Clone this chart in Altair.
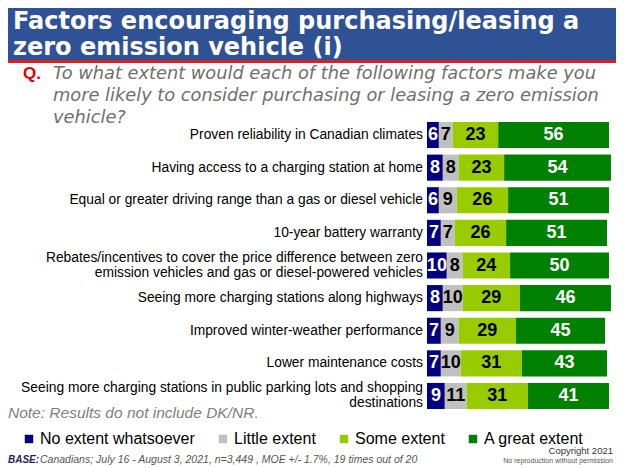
import altair as alt
import pandas as pd

# ---------------- data ----------------
categories = [
    "Proven reliability in Canadian climates",
    "Having access to a charging station at home",
    "Equal or greater driving range than a gas or diesel vehicle",
    "10-year battery warranty",
    "Rebates/incentives to cover the price difference between zero\nemission vehicles and gas or diesel-powered vehicles",
    "Seeing more charging stations along highways",
    "Improved winter-weather performance",
    "Lower maintenance costs",
    "Seeing more charging stations in public parking lots and shopping\ndestinations",
]
no_extent = [6, 8, 6, 7, 10, 8, 7, 7, 9]
little_extent = [7, 8, 9, 7, 8, 10, 9, 10, 11]
some_extent = [23, 23, 26, 26, 24, 29, 29, 31, 31]
great_extent = [56, 54, 51, 51, 50, 46, 45, 43, 41]

levels = ["No extent whatsoever", "Little extent", "Some extent", "A great extent"]
level_colors = ["#000080", "#C0C0C0", "#99CC00", "#008000"]

title_lines = ["Factors encouraging purchasing/leasing a", "zero emission vehicle (i)"]
question_lines = [
    "To what extent would each of the following factors make you",
    "more likely to consider purchasing or leasing a zero emission",
    "vehicle?",
]
note_text = "Note: Results do not include DK/NR."
base_label = "BASE:"
base_text = "Canadians; July 16 - August 3, 2021, n=3,449 , MOE +/- 1.7%, 19 times out of 20"
copyright_text = "Copyright 2021"
reproduction_text = "No reproduction without permission"

rows = []
for series, lvl in zip([no_extent, little_extent, some_extent, great_extent], levels):
    for cat, v in zip(categories, series):
        rows.append({"category": cat, "level": lvl, "value": v, "order": levels.index(lvl)})
df = pd.DataFrame(rows)
cat_df = pd.DataFrame({"category": categories})
one = pd.DataFrame({"k": [0]})

W, H = 608, 458
FONT = "Liberation Sans"
NARROW = "Liberation Sans Narrow, Liberation Sans"

yscale = alt.Scale(domain=categories, range=[110.7, 404.3], paddingInner=0.2, paddingOuter=0.1)
xscale = alt.Scale(domain=[0, 100], range=[419, 616.8], nice=False, zero=True)

base = alt.Chart(df).transform_stack(
    stack="value", groupby=["category"], as_=["x0", "x1"],
    sort=[alt.SortField("order", "ascending")]
).transform_calculate(mid="(datum.x0 + datum.x1) / 2")

bars = base.mark_bar().encode(
    y=alt.Y("category:N", scale=yscale, axis=None),
    x=alt.X("x0:Q", scale=xscale, axis=None),
    x2="x1:Q",
    color=alt.Color(
        "level:N",
        scale=alt.Scale(domain=levels, range=level_colors),
        legend=alt.Legend(
            orient="none", legendX=13, legendY=423, direction="horizontal",
            title=None, symbolType="square", symbolSize=72, symbolStrokeWidth=0,
            labelFont=FONT, labelFontSize=16, labelColor="black",
            labelOffset=3, columnPadding=20, labelLimit=300,
        ),
    ),
)

seg_labels = base.mark_text(font=FONT, fontSize=18, fontWeight="bold", baseline="middle", align="center").encode(
    y=alt.Y("category:N", scale=yscale, axis=None),
    x=alt.X("mid:Q", scale=xscale, axis=None),
    text="value:Q",
    color=alt.condition(
        "datum.level == 'No extent whatsoever' || datum.level == 'A great extent'",
        alt.value("white"), alt.value("black"),
    ),
)

cat_single = alt.Chart(cat_df).transform_filter("indexof(datum.category, '\\n') < 0").mark_text(
    font=FONT, fontSize=13.8, align="right", baseline="middle", color="black"
).encode(
    y=alt.Y("category:N", scale=yscale, axis=None),
    x=alt.value(415),
    text="category:N",
)
cat_multi = alt.Chart(cat_df).transform_filter("indexof(datum.category, '\\n') >= 0").mark_text(
    font=FONT, fontSize=13.8, align="right", baseline="middle", lineBreak="\n", lineHeight=15,
    dy=-7.5, color="black"
).encode(
    y=alt.Y("category:N", scale=yscale, axis=None),
    x=alt.value(415),
    text="category:N",
)

band = alt.Chart(one).mark_rect(color="#2F5296").encode(
    x=alt.value(0), x2=alt.value(W), y=alt.value(0), y2=alt.value(52)
)
redline = alt.Chart(one).mark_rect(color="#D91F1F").encode(
    x=alt.value(0), x2=alt.value(W), y=alt.value(52), y2=alt.value(55)
)
title = alt.Chart(one).mark_text(
    font="DejaVu Sans", fontSize=24, fontWeight="bold", color="white", align="left",
    baseline="alphabetic", lineHeight=26
).encode(x=alt.value(5), y=alt.value(21), text=alt.value(title_lines))

q_mark = alt.Chart(one).mark_text(
    font=FONT, fontSize=17, fontWeight="bold", color="#E00000", align="left", baseline="alphabetic"
).encode(x=alt.value(15), y=alt.value(71), text=alt.value("Q."))

question = alt.Chart(one).mark_text(
    font="DejaVu Sans", fontSize=17.8, fontStyle="italic", color="#6E6E6E", align="left",
    baseline="alphabetic", lineHeight=22
).encode(x=alt.value(45), y=alt.value(71), text=alt.value(question_lines))

note = alt.Chart(one).mark_text(
    font=FONT, fontSize=15.5, fontStyle="italic", color="#808080", align="left", baseline="alphabetic"
).encode(x=alt.value(0), y=alt.value(410), text=alt.value(note_text))

base_lbl = alt.Chart(one).mark_text(
    font=NARROW, fontSize=10, fontStyle="italic", fontWeight="bold", color="#1F1F5F", align="left",
    baseline="alphabetic"
).encode(x=alt.value(0), y=alt.value(455), text=alt.value(base_label))

base_txt = alt.Chart(one).mark_text(
    font=FONT, fontSize=10.5, fontStyle="italic", color="#555555", align="left", baseline="alphabetic"
).encode(x=alt.value(32), y=alt.value(455), text=alt.value(base_text))

copyright = alt.Chart(one).mark_text(
    font=NARROW, fontSize=9.5, color="#333333", align="right", baseline="alphabetic"
).encode(x=alt.value(605), y=alt.value(446), text=alt.value(copyright_text))

repro = alt.Chart(one).mark_text(
    font=FONT, fontSize=7, color="#555555", align="right", baseline="alphabetic"
).encode(x=alt.value(605), y=alt.value(455), text=alt.value(reproduction_text))

chart = alt.layer(
    band, redline, title, q_mark, question, bars, seg_labels, cat_single, cat_multi,
    note, base_lbl, base_txt, copyright, repro,
).properties(
    width=W, height=H, autosize=alt.AutoSizeParams(type="none"), padding=0
).configure_view(stroke=None)

chart.save("out.html", embed_options={"renderer": "svg", "actions": False})
